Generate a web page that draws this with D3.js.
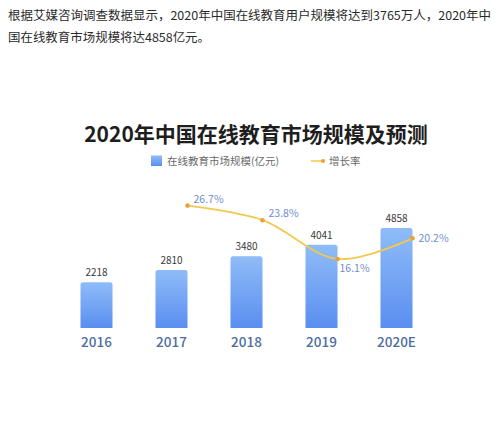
<!DOCTYPE html>
<html>
<head>
<meta charset="utf-8">
<script src="https://cdn.jsdelivr.net/npm/d3@7"></script>
<style>
  body { margin: 0; background: #fff; }
  svg { display: block; font-family: "Noto Sans CJK SC", "Noto Sans", sans-serif; }
</style>
</head>
<body>
<svg id="chart" width="500" height="426"></svg>
<script>
// chart data
const years = ['2016', '2017', '2018', '2019', '2020E'];
const marketSize = [2218, 2810, 3480, 4041, 4858];
const growthYears = ['2017', '2018', '2019', '2020E'];
const growthRate = [26.7, 23.8, 16.1, 20.2];
const introLines = [
  '根据艾媒咨询调查数据显示，2020年中国在线教育用户规模将达到3765万人，2020年中',
  '国在线教育市场规模将达4858亿元。'
];

// where each growth label sits relative to its point
const pctPlace = ['above', 'above', 'below', 'right'];
// width of each intro line as it is set in the reference
const introWidth = [483, 202];

const svg = d3.select('#chart');

// intro paragraph
svg.selectAll('text.intro')
  .data(introLines)
  .join('text')
  .attr('class', 'intro')
  .attr('x', 8)
  .attr('y', (d, i) => 19.5 + i * 22.5)
  .attr('textLength', (d, i) => introWidth[i])
  .attr('lengthAdjust', 'spacingAndGlyphs')
  .style('font-size', '12.2px')
  .style('fill', '#2a2a2a')
  .text(d => d);

// title
svg.append('text')
  .attr('x', 256)
  .attr('y', 142)
  .attr('text-anchor', 'middle')
  .style('font-size', '21px')
  .style('font-weight', 'bold')
  .style('fill', '#1e1e1e')
  .text('2020年中国在线教育市场规模及预测');

// gradient for bars
const defs = svg.append('defs');
const grad = defs.append('linearGradient')
  .attr('id', 'barGrad')
  .attr('x1', 0).attr('y1', 0).attr('x2', 0).attr('y2', 1);
grad.append('stop').attr('offset', '0%').attr('stop-color', '#8fbcf8');
grad.append('stop').attr('offset', '100%').attr('stop-color', '#5a8ef0');

// legend
const legend = svg.append('g').attr('class', 'legend');
legend.append('rect')
  .attr('x', 151).attr('y', 155.5)
  .attr('width', 11).attr('height', 10.5)
  .style('fill', 'url(#barGrad)');
legend.append('text')
  .attr('x', 167).attr('y', 164.5)
  .style('font-size', '10.5px')
  .style('fill', '#6a6a6a')
  .text('在线教育市场规模(亿元)');
legend.append('line')
  .attr('x1', 311).attr('x2', 325)
  .attr('y1', 161).attr('y2', 161)
  .style('stroke', '#f2c94c')
  .style('stroke-width', 1.5);
legend.append('circle')
  .attr('cx', 323).attr('cy', 161).attr('r', 2)
  .style('fill', '#e9a23b');
legend.append('text')
  .attr('x', 329).attr('y', 164.5)
  .style('font-size', '10.5px')
  .style('fill', '#6a6a6a')
  .text('增长率');

// scales
const x = d3.scaleBand()
  .domain(years)
  .range([59, 434])
  .paddingInner(0.573)
  .paddingOuter(0.2865);

const y = d3.scaleLinear()
  .domain([0, 5000])
  .range([328, 225]);

const yRate = d3.scaleLinear()
  .domain([0, 30])
  .range([340, 189]);

const bw = x.bandwidth();

// bars with rounded top corners
const r = 2.5;
svg.append('g')
  .selectAll('path')
  .data(years)
  .join('path')
  .attr('d', (d, i) => {
    const x0 = x(d), x1 = x(d) + bw, top = y(marketSize[i]), bot = y(0);
    return `M${x0},${bot}V${top + r}Q${x0},${top} ${x0 + r},${top}H${x1 - r}Q${x1},${top} ${x1},${top + r}V${bot}Z`;
  })
  .style('fill', 'url(#barGrad)');

// value labels
svg.append('g')
  .selectAll('text')
  .data(years)
  .join('text')
  .attr('x', d => x(d) + bw / 2)
  .attr('y', (d, i) => y(marketSize[i]) - 6)
  .attr('text-anchor', 'middle')
  .style('font-size', '10px')
  .style('fill', '#3a3a3a')
  .text((d, i) => marketSize[i]);

// x axis labels
const xAxis = svg.append('g')
  .attr('transform', `translate(0,${y(0)})`)
  .call(d3.axisBottom(x).tickSize(0).tickPadding(9));
xAxis.select('.domain').remove();
xAxis.selectAll('text')
  .style('font-family', '"Noto Sans CJK SC", "Noto Sans", sans-serif')
  .style('font-size', '13.5px')
  .style('font-weight', '500')
  .style('fill', '#4d6e9e');

// growth line, points sit on the bars' right edges
const lx = d => x(d) + bw;
const line = d3.line()
  .x((d, i) => lx(growthYears[i]))
  .y(d => yRate(d))
  .curve(d3.curveCatmullRom.alpha(0.5));

svg.append('path')
  .datum(growthRate)
  .attr('d', line)
  .style('fill', 'none')
  .style('stroke', '#f2c94c')
  .style('stroke-width', 1.8);

svg.append('g')
  .selectAll('circle')
  .data(growthRate)
  .join('circle')
  .attr('cx', (d, i) => lx(growthYears[i]))
  .attr('cy', d => yRate(d))
  .attr('r', 2.3)
  .style('fill', '#e9a23b');

svg.append('g')
  .selectAll('text')
  .data(growthRate)
  .join('text')
  .attr('x', (d, i) => lx(growthYears[i]) + (pctPlace[i] === 'below' ? 2 : 6))
  .attr('y', (d, i) => {
    const cy = yRate(d);
    if (pctPlace[i] === 'above') return cy - 3;
    if (pctPlace[i] === 'below') return cy + 13.5;
    return cy + 4;
  })
  .style('font-size', '10.5px')
  .style('fill', '#6f8fcc')
  .text(d => d.toFixed(1) + '%');
</script>
</body>
</html>
